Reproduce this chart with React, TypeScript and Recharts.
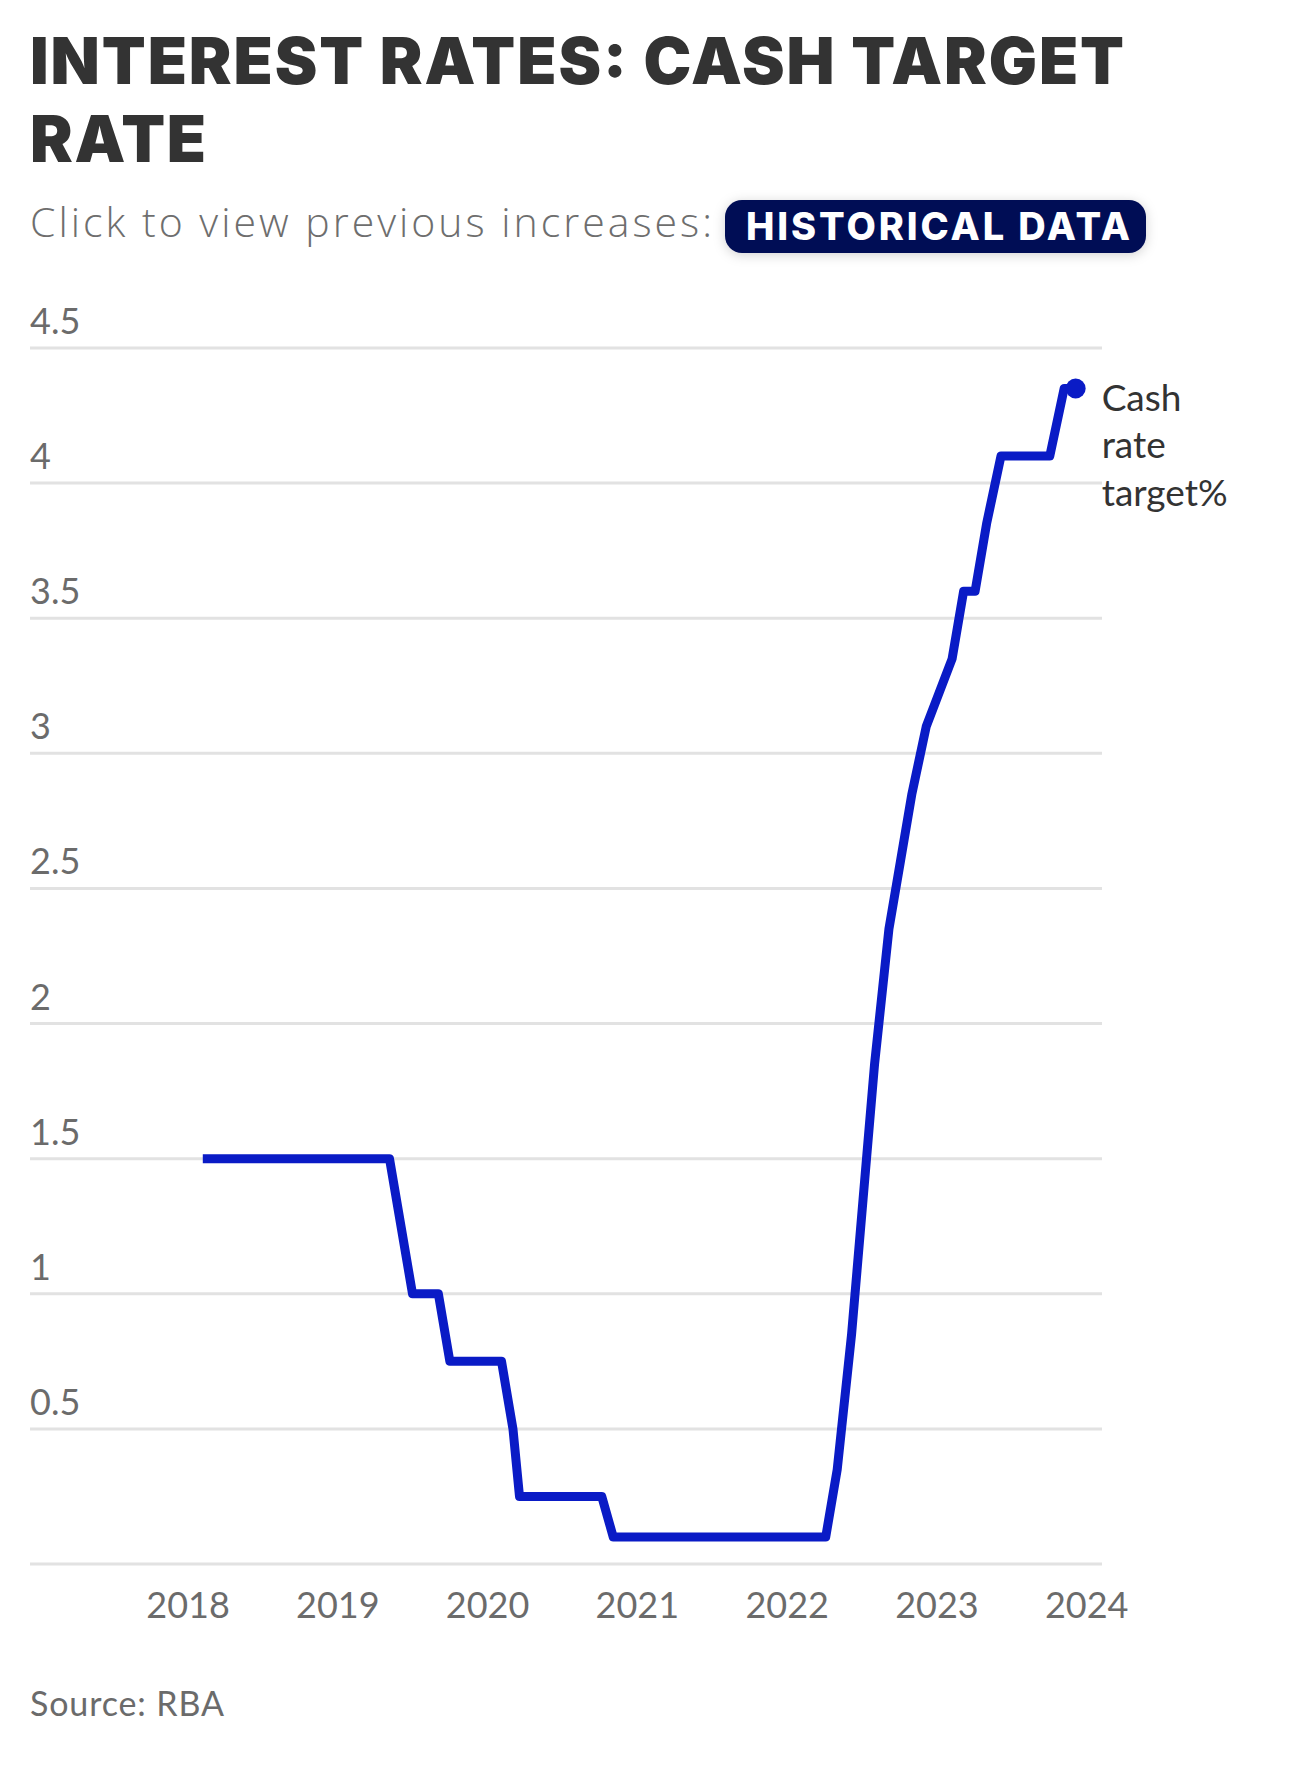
import React from 'react';
import { CartesianGrid, Line, LineChart, XAxis, YAxis } from 'recharts';

// RBA board meeting dates (incl. holds) and the cash rate target set at each
const meetingDates = [
  '2018-02-06', '2018-03-06', '2018-04-03', '2018-05-01', '2018-06-05', '2018-07-03',
  '2018-08-07', '2018-09-04', '2018-10-02', '2018-11-06', '2018-12-04',
  '2019-02-05', '2019-03-05', '2019-04-02', '2019-05-07', '2019-06-04', '2019-07-02',
  '2019-08-06', '2019-09-03', '2019-10-01', '2019-11-05', '2019-12-03',
  '2020-02-04', '2020-03-03', '2020-03-19', '2020-04-07', '2020-05-05', '2020-06-02',
  '2020-07-07', '2020-08-04', '2020-09-01', '2020-10-06', '2020-11-03', '2020-12-01',
  '2021-02-02', '2021-03-02', '2021-04-06', '2021-05-04', '2021-06-01', '2021-07-06',
  '2021-08-03', '2021-09-07', '2021-10-05', '2021-11-02', '2021-12-07',
  '2022-02-01', '2022-03-01', '2022-04-05', '2022-05-03', '2022-06-07', '2022-07-05',
  '2022-08-02', '2022-09-06', '2022-10-04', '2022-11-01', '2022-12-06',
  '2023-02-07', '2023-03-07', '2023-04-04', '2023-05-02', '2023-06-06', '2023-07-04',
  '2023-08-01', '2023-09-05', '2023-10-03', '2023-11-07', '2023-12-05',
];

const cashRateTarget = [
  1.5, 1.5, 1.5, 1.5, 1.5, 1.5, 1.5, 1.5, 1.5, 1.5, 1.5,
  1.5, 1.5, 1.5, 1.5, 1.25, 1.0, 1.0, 1.0, 0.75, 0.75, 0.75,
  0.75, 0.5, 0.25, 0.25, 0.25, 0.25, 0.25, 0.25, 0.25, 0.25, 0.1, 0.1,
  0.1, 0.1, 0.1, 0.1, 0.1, 0.1, 0.1, 0.1, 0.1, 0.1, 0.1,
  0.1, 0.1, 0.1, 0.35, 0.85, 1.35, 1.85, 2.35, 2.6, 2.85, 3.1,
  3.35, 3.6, 3.6, 3.85, 4.1, 4.1, 4.1, 4.1, 4.1, 4.35, 4.35,
];

const yearTicks = [2018, 2019, 2020, 2021, 2022, 2023, 2024];
const rateTicks = [0, 0.5, 1, 1.5, 2, 2.5, 3, 3.5, 4, 4.5];
const seriesLabel = ['Cash', 'rate', 'target%'];

const BLUE = '#0a1bc6';
const GREY = '#6b6b6b';
const CHART_TOP = 280;
const PLOT_LEFT = 30;
const X_LABEL_BASELINE = 1618 - CHART_TOP;

const toDecimalYear = (iso: string) => {
  const [y, m, d] = iso.split('-').map(Number);
  const start = Date.UTC(y, 0, 1);
  const end = Date.UTC(y + 1, 0, 1);
  return y + (Date.UTC(y, m - 1, d) - start) / (end - start);
};

const rows = meetingDates.map((date, i) => ({ t: toDecimalYear(date), rate: cashRateTarget[i] }));

const renderYTick = (props: any) => {
  const { y, payload, index } = props;
  if (payload.value === 0) return <g key={index} />;
  return (
    <text key={index} x={PLOT_LEFT} y={y - 14} fontFamily="Lato" fontSize={36} fill={GREY} textAnchor="start">
      {payload.value}
    </text>
  );
};

const renderXTick = (props: any) => {
  const { x, payload, index } = props;
  return (
    <text key={index} x={x} y={X_LABEL_BASELINE} fontFamily="Lato" fontSize={36} fill={GREY} textAnchor="middle">
      {payload.value}
    </text>
  );
};

const renderEndDot = (props: any) => {
  const { cx, cy, index } = props;
  if (index !== rows.length - 1) return <g key={index} />;
  return (
    <g key={index}>
      <circle cx={cx} cy={cy} r={10} fill={BLUE} />
      <text x={cx + 26} y={cy + 22} fontFamily="Lato" fontSize={37} fill="#333">
        {seriesLabel.map((s, i) => (
          <tspan key={s} x={cx + 26} dy={i === 0 ? 0 : 47.5}>
            {s}
          </tspan>
        ))}
      </text>
    </g>
  );
};

export default function App() {
  return (
    <div style={{ position: 'absolute', left: 0, top: 0, width: 1290, height: 1767, background: '#fff' }}>
      <svg width={1290} height={280} style={{ position: 'absolute', left: 0, top: 0 }}>
        <defs>
          <filter id="btnShadow" x="-10%" y="-40%" width="120%" height="180%">
            <feDropShadow dx="0" dy="2" stdDeviation="6" floodColor="#000" floodOpacity="0.18" />
          </filter>
        </defs>
        <text x={30} y={83.5} fontFamily="Inter" fontWeight={900} fontSize={64} fill="#333"
          textLength={1094} lengthAdjust="spacing">
          INTEREST RATES: CASH TARGET
        </text>
        <text x={30} y={162} fontFamily="Inter" fontWeight={900} fontSize={64} fill="#333"
          textLength={176} lengthAdjust="spacing">
          RATE
        </text>
        <text x={30} y={237} fontFamily="Open Sans" fontWeight={300} fontSize={41} fill="#6e6e6e"
          textLength={682} lengthAdjust="spacing">
          Click to view previous increases:
        </text>
        <rect x={725} y={200} width={421} height={53} rx={17} fill="#020c55" filter="url(#btnShadow)" />
        <text x={746} y={240} fontFamily="Inter" fontWeight={800} fontSize={38} fill="#fff"
          textLength={384} lengthAdjust="spacing">
          HISTORICAL DATA
        </text>
      </svg>

      <div style={{ position: 'absolute', left: 0, top: CHART_TOP }}>
        <LineChart width={1290} height={1420} data={rows} margin={{ top: 68, right: 188, bottom: 76, left: 0 }}>
          <CartesianGrid vertical={false} stroke="#e2e2e2" strokeWidth={3} />
          <XAxis
            type="number"
            dataKey="t"
            domain={[2016.945, 2024.102]}
            ticks={yearTicks}
            axisLine={false}
            tickLine={false}
            height={60}
            tick={renderXTick}
          />
          <YAxis
            type="number"
            domain={[0, 4.5]}
            ticks={rateTicks}
            axisLine={false}
            tickLine={false}
            width={PLOT_LEFT}
            tick={renderYTick}
          />
          <Line
            type="linear"
            dataKey="rate"
            stroke={BLUE}
            strokeWidth={9}
            strokeLinejoin="round"
            dot={renderEndDot}
            activeDot={false}
            isAnimationActive={false}
          />
        </LineChart>
      </div>

      <svg width={1290} height={100} style={{ position: 'absolute', left: 0, top: 1667 }}>
        <text x={30} y={49} fontFamily="Lato" fontSize={34} fill={GREY} textLength={194} lengthAdjust="spacing">
          Source: RBA
        </text>
      </svg>
    </div>
  );
}
